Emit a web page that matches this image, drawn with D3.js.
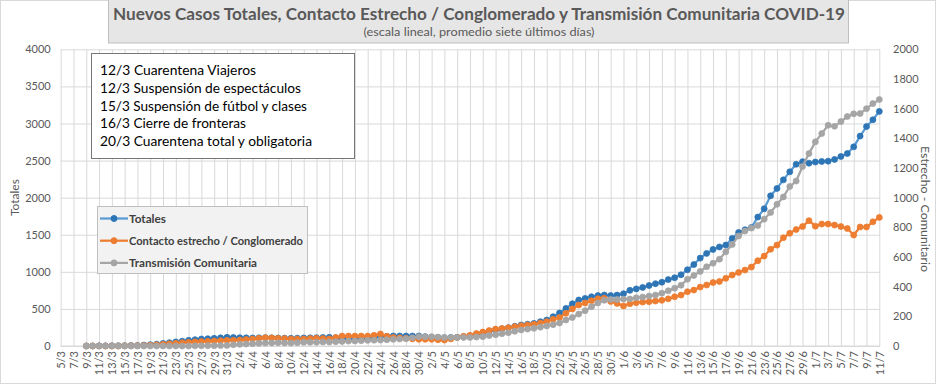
<!DOCTYPE html>
<html>
<head>
<meta charset="utf-8">
<script src="https://cdn.jsdelivr.net/npm/d3@7"></script>
<style>
  body { margin: 0; background: #fff; }
  text { font-family: Lato, "Open Sans", sans-serif; }
</style>
</head>
<body>
<svg id="chart" width="937" height="386"></svg>
<script>
// categories: one point per day, 9/3 .. 11/7 (2020); axis runs 5/3 .. 11/7
let axis_start = new Date(Date.UTC(2020, 2, 5));
let axis_end = new Date(Date.UTC(2020, 6, 11));
let series_start = new Date(Date.UTC(2020, 2, 9));
let dates = d3.utcDay.range(series_start, d3.utcDay.offset(axis_end, 1));

// Totales (left axis)
let totales = [
  1, 1, 2, 2, 3, 4, 5, 6, 8, 12,
  18, 25, 35, 45, 55, 65, 76, 85, 94, 98, 103, 110, 117,
  115, 112, 110, 108, 110, 112, 110, 108, 106, 104, 106, 108, 110, 112, 115, 117,
  110, 103, 98, 94, 94, 94, 110, 126, 130, 135, 135, 135, 135, 135, 126, 117, 114, 112, 115, 117, 126, 135,
  155, 180, 198, 216, 232, 247, 265, 283, 294, 305, 328, 350, 395, 445, 507, 570, 620, 642, 664, 680, 687, 680, 687, 705,
  750, 770, 790, 815, 840, 860, 895, 920, 960, 1028, 1098, 1185, 1248, 1302, 1335, 1360,
  1450, 1530, 1567, 1598, 1738, 1850, 2025, 2124, 2240, 2348, 2450, 2485, 2465, 2480, 2488, 2492, 2515, 2555, 2595, 2685, 2830, 2958, 3050, 3163
];

// Contacto estrecho / Conglomerado (right axis)
let contacto = [
  0, 0, 0, 0, 0, 0, 1, 1, 2, 3, 5, 8,
  11, 15, 18, 22, 25, 28, 30, 32, 34, 36, 38, 39, 40, 44, 47, 52, 56, 54, 52, 50, 47, 47, 47, 50, 52, 50, 48,
  58, 67, 67, 67, 67, 67, 72, 81, 65, 58, 55, 52, 48, 45, 45, 45, 42, 40, 48, 58, 65, 72,
  84, 94, 104, 114, 118, 123, 130, 137, 142, 146, 155, 164, 180, 192, 220, 250, 276, 290, 305, 318, 322, 300, 287, 270,
  285, 292, 296, 299, 303, 308, 318, 332, 343, 366, 377, 397, 411, 428, 435, 456,
  478, 496, 512, 532, 575, 606, 652, 680, 730, 760, 785, 805, 845, 808, 822, 822, 815, 805, 792, 748, 802, 802, 837, 867
];

// Transmisión Comunitaria (right axis)
let comunitaria = [
  0, 0, 0, 0, 0, 0, 0, 0, 0, 0, 0, 0, 0, 0, 0, 0, 0, 1, 1, 2, 2, 3, 4,
  8, 11, 13, 16, 18, 20, 21, 22, 21, 20, 22, 25, 25, 25, 27, 27,
  29, 31, 33, 34, 36, 38, 39, 40, 42, 45, 47, 49, 56, 63, 63, 63, 60, 58, 58, 58, 58, 58,
  60, 63, 70, 76, 83, 90, 99, 108, 114, 119, 127, 135, 144, 155, 175, 192, 215, 238, 265, 290, 308, 314, 314, 316,
  317, 325, 330, 337, 343, 356, 372, 390, 410, 450, 475, 503, 534, 558, 585, 635,
  684, 742, 775, 795, 812, 855, 900, 955, 1005, 1075, 1112, 1210, 1297, 1376, 1432, 1488, 1481, 1513, 1547, 1565, 1567, 1600, 1634, 1661
];

let left_ticks = [0, 500, 1000, 1500, 2000, 2500, 3000, 3500, 4000];
let right_ticks = [0, 200, 400, 600, 800, 1000, 1200, 1400, 1600, 1800, 2000];

let notes = [
  "12/3 Cuarentena Viajeros",
  "12/3 Suspensión de espectáculos",
  "15/3 Suspensión de fútbol y clases",
  "16/3 Cierre de fronteras",
  "20/3 Cuarentena total y obligatoria"
];
let note_widths = [156, 201, 207, 146, 212];

let series = [
  {name: "Totales", values: totales, axis: "left", line: "#5b9bd5", marker: "#2e75b6"},
  {name: "Contacto estrecho / Conglomerado", values: contacto, axis: "right", line: "#ed7d31", marker: "#ed7d31"},
  {name: "Transmisión Comunitaria", values: comunitaria, axis: "right", line: "#a5a5a5", marker: "#a5a5a5"}
];

let plot = {left: 60.7, right: 879.3, top: 49.3, bottom: 346};
let grid_color = "#d9d9d9";
let text_color = "#595959";

let svg = d3.select("#chart");

// chart border
svg.append("rect")
   .attr("x", 0.5).attr("y", 0.5)
   .attr("width", 935).attr("height", 383)
   .style("fill", "#fff")
   .style("stroke", "#d9d9d9");

let x = d3.scaleUtc()
          .domain([axis_start, axis_end])
          .range([plot.left, plot.right]);

let y_left = d3.scaleLinear()
               .domain([0, 4000])
               .range([plot.bottom, plot.top]);

let y_right = d3.scaleLinear()
                .domain([0, 2000])
                .range([plot.bottom, plot.top]);

let x_ticks = d3.utcDay.range(axis_start, d3.utcDay.offset(axis_end, 1), 2);

// gridlines
svg.append("g")
   .attr("transform", "translate(0," + plot.bottom + ")")
   .call(d3.axisBottom(x).tickValues(x_ticks).tickSize(-(plot.bottom - plot.top)).tickFormat(""))
   .call(g => g.select(".domain").remove())
   .call(g => g.selectAll("line").style("stroke", grid_color));

svg.append("g")
   .attr("transform", "translate(" + plot.left + ",0)")
   .call(d3.axisLeft(y_left).tickValues(left_ticks).tickSize(-(880 - plot.left)).tickFormat(""))
   .call(g => g.select(".domain").remove())
   .call(g => g.selectAll("line").style("stroke", grid_color));

// left axis labels
svg.append("g")
   .attr("transform", "translate(" + plot.left + ",0)")
   .call(d3.axisLeft(y_left).tickValues(left_ticks).tickSize(0).tickPadding(10).tickFormat(d3.format("d")))
   .call(g => g.select(".domain").remove())
   .call(g => g.selectAll("text").style("fill", text_color).style("font-size", "11px")
               .style("font-family", "Lato, sans-serif"));

// right axis labels
svg.append("g")
   .attr("transform", "translate(880,0)")
   .call(d3.axisRight(y_right).tickValues(right_ticks).tickSize(0).tickPadding(13).tickFormat(d3.format("d")))
   .call(g => g.select(".domain").remove())
   .call(g => g.selectAll("text").style("fill", text_color).style("font-size", "11px")
               .style("font-family", "Lato, sans-serif"));

// x axis labels, rotated
svg.append("g")
   .attr("transform", "translate(0," + plot.bottom + ")")
   .call(d3.axisBottom(x).tickValues(x_ticks).tickSize(0).tickFormat(d3.utcFormat("%-d/%-m")))
   .call(g => g.select(".domain").remove())
   .call(g => g.selectAll("text")
               .attr("transform", "rotate(-90)")
               .attr("x", -5)
               .attr("y", 0)
               .attr("dy", "0.35em")
               .style("text-anchor", "end")
               .style("fill", text_color)
               .style("font-size", "11px")
               .style("font-family", "Lato, sans-serif"));

// axis line at zero
svg.append("line")
   .attr("x1", plot.left).attr("x2", 880)
   .attr("y1", plot.bottom).attr("y2", plot.bottom)
   .style("stroke", grid_color);

// series
series.forEach(function(s) {
  let y = s.axis === "left" ? y_left : y_right;
  let points = s.values.map(function(v, i) { return {date: dates[i], value: v}; });
  let line = d3.line()
               .x(d => x(d.date))
               .y(d => y(d.value));
  svg.append("path")
     .datum(points)
     .attr("d", line)
     .style("fill", "none")
     .style("stroke", s.line)
     .style("stroke-width", 2.25)
     .style("stroke-linejoin", "round");
  svg.append("g")
     .selectAll("circle")
     .data(points)
     .join("circle")
     .attr("cx", d => x(d.date))
     .attr("cy", d => y(d.value))
     .attr("r", 3)
     .style("fill", s.marker)
     .style("stroke", s.marker)
     .style("stroke-width", 0.75);
});

// axis titles
svg.append("text")
   .attr("transform", "translate(19," + ((plot.top + plot.bottom) / 2) + ") rotate(-90)")
   .style("text-anchor", "middle")
   .style("fill", text_color)
   .style("font-size", "12px")
   .text("Totales");

svg.append("text")
   .attr("transform", "translate(921,209) rotate(90)")
   .style("text-anchor", "middle")
   .style("fill", text_color)
   .style("font-size", "12px")
   .attr("textLength", 126)
   .attr("lengthAdjust", "spacingAndGlyphs")
   .text("Estrecho - Comunitario");

// title box
svg.append("rect")
   .attr("x", 108.5).attr("y", -1)
   .attr("width", 740).attr("height", 44)
   .style("fill", "#e7e6e6")
   .style("stroke", "#bfbfbf");

svg.append("text")
   .attr("x", 479).attr("y", 20)
   .style("text-anchor", "middle")
   .style("font-weight", "bold")
   .style("font-size", "17px")
   .style("fill", text_color)
   .attr("textLength", 732)
   .attr("lengthAdjust", "spacingAndGlyphs")
   .text("Nuevos Casos Totales, Contacto Estrecho / Conglomerado y Transmisión Comunitaria COVID-19");

svg.append("text")
   .attr("x", 479).attr("y", 36)
   .style("text-anchor", "middle")
   .style("font-size", "11.5px")
   .style("fill", text_color)
   .attr("textLength", 231)
   .attr("lengthAdjust", "spacingAndGlyphs")
   .text("(escala lineal, promedio siete últimos días)");

// notes box
svg.append("rect")
   .attr("x", 91.5).attr("y", 53.5)
   .attr("width", 263).attr("height", 105)
   .style("fill", "#fff")
   .style("stroke", "#767676");

svg.append("g")
   .selectAll("text")
   .data(notes)
   .join("text")
   .attr("x", 100)
   .attr("y", (d, i) => 75 + i * 17.8)
   .attr("textLength", (d, i) => note_widths[i])
   .attr("lengthAdjust", "spacingAndGlyphs")
   .style("font-size", "14px")
   .style("fill", "#000")
   .text(d => d);

// legend
svg.append("rect")
   .attr("x", 97.5).attr("y", 206.5)
   .attr("width", 210).attr("height", 67)
   .style("fill", "#f2f2f2")
   .style("stroke", "#bfbfbf");

let legend_widths = [37, 174, 128];
let legend = svg.selectAll(".legend")
   .data(series)
   .enter().append("g")
   .attr("class", "legend")
   .attr("transform", (d, i) => "translate(0," + (218.5 + i * 22.2) + ")");

legend.append("line")
   .attr("x1", 100).attr("x2", 128)
   .style("stroke", d => d.line)
   .style("stroke-width", 2.25);

legend.append("circle")
   .attr("cx", 114).attr("r", 3)
   .style("fill", d => d.marker)
   .style("stroke", d => d.marker);

legend.append("text")
   .attr("x", 129)
   .attr("dy", "0.35em")
   .attr("textLength", (d, i) => legend_widths[i])
   .attr("lengthAdjust", "spacingAndGlyphs")
   .style("font-size", "12px")
   .style("font-weight", "bold")
   .style("fill", "#404040")
   .text(d => d.name);
</script>
</body>
</html>
